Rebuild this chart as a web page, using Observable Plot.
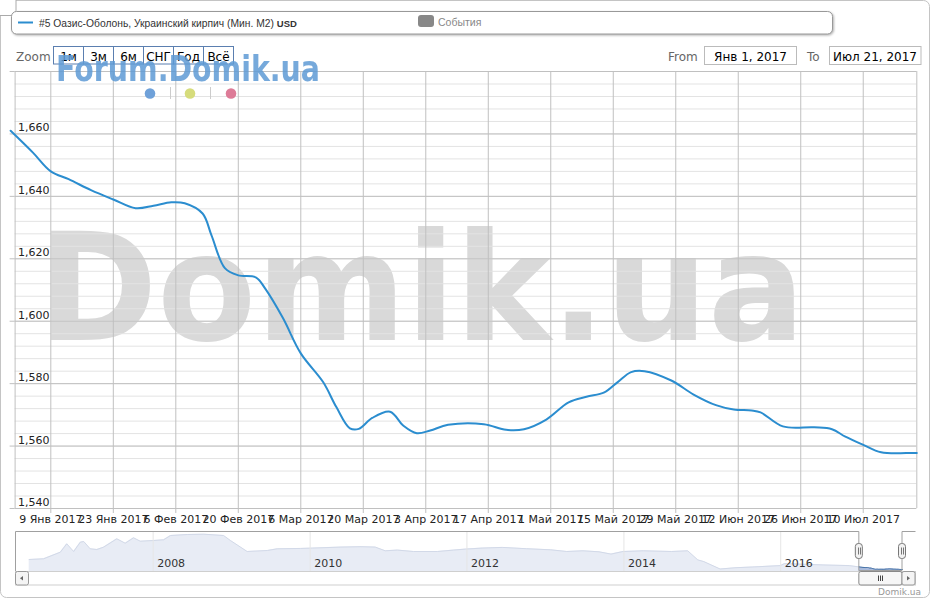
<!DOCTYPE html>
<html><head><meta charset="utf-8">
<script src="https://cdn.jsdelivr.net/npm/d3@7"></script>
<script src="https://cdn.jsdelivr.net/npm/@observablehq/plot@0.6"></script>
<style>
body{margin:0;background:#fff;font-family:"DejaVu Sans",sans-serif;}
#wrap{position:relative;width:931px;height:600px;overflow:hidden;background:#fff;}
#wrap svg{position:absolute;left:0;}
</style></head><body><div id="wrap"></div><script>
// ---------- data ----------
const seriesName = "#5 Оазис-Оболонь, Украинский кирпич (Мин. М2) ";
const seriesUnit = "USD";
const mainDates = ["2016-12-31","2017-01-05","2017-01-09","2017-01-13","2017-01-18","2017-01-23","2017-01-28","2017-02-01","2017-02-05","2017-02-08","2017-02-12","2017-02-14","2017-02-17","2017-02-20","2017-02-24","2017-02-26","2017-03-02","2017-03-06","2017-03-11","2017-03-14","2017-03-17","2017-03-19","2017-03-22","2017-03-26","2017-03-29","2017-04-01","2017-04-04","2017-04-08","2017-04-16","2017-04-21","2017-04-25","2017-04-30","2017-05-05","2017-05-09","2017-05-13","2017-05-16","2017-05-19","2017-05-22","2017-05-28","2017-06-02","2017-06-07","2017-06-11","2017-06-15","2017-06-17","2017-06-22","2017-06-29","2017-07-03","2017-07-06","2017-07-10","2017-07-14","2017-07-21","2017-07-22"];
const mainValues = [1661,1654,1648,1645.5,1642,1639,1636.2,1637,1638.1,1637.8,1634.5,1627.5,1617,1614.7,1614,1610.5,1601,1589.7,1580.5,1572.4,1565.7,1565.5,1569,1571,1566.5,1564.1,1565,1566.8,1567,1565.2,1565.4,1568.5,1574,1575.8,1577.2,1580.5,1583.7,1584,1581,1576.5,1573.1,1571.7,1571.4,1570.8,1566.3,1566,1565.4,1563,1560.4,1558,1557.8,1557.8];
const navDates = ["2006-06-03","2006-08-09","2006-10-26","2006-11-25","2006-12-27","2007-01-27","2007-02-12","2007-03-14","2007-04-14","2007-05-15","2007-07-16","2007-08-24","2007-10-02","2007-11-02","2008-01-03","2008-02-19","2008-03-22","2008-06-08","2008-08-24","2008-11-24","2008-12-26","2009-03-14","2009-06-16","2009-08-01","2009-11-17","2010-01-12","2010-05-24","2010-08-26","2010-10-31","2010-12-17","2011-02-11","2011-04-27","2011-08-17","2011-10-31","2011-12-26","2012-03-11","2012-06-13","2012-10-04","2013-01-25","2013-04-10","2013-06-24","2013-09-07","2013-11-02","2013-12-28","2014-04-01","2014-08-11","2014-10-25","2014-12-11","2015-01-08","2015-03-25","2015-06-07","2015-08-21","2015-12-31","2016-01-19","2016-04-22","2016-07-25","2016-11-15"];
const navValues = [1958,1986,2250,2586,2278,2650,2678,2386,2358,2450,2786,2610,2826,2690,2718,2746,2918,2958,2970,2918,2718,2278,2318,2386,2400,2414,2454,2470,2454,2306,2334,2278,2278,2334,2374,2414,2442,2390,2346,2278,2306,2266,2174,2278,2306,2278,2306,1942,1874,1578,1630,1658,1714,1794,1766,1738,1714];
const xTickDates = ["2017-01-09","2017-01-23","2017-02-06","2017-02-20","2017-03-06","2017-03-20","2017-04-03","2017-04-17","2017-05-01","2017-05-15","2017-05-29","2017-06-12","2017-06-26","2017-07-10"];
const monthNames = ["Янв","Фев","Мар","Апр","Май","Июн","Июл","Авг","Сен","Окт","Ноя","Дек"];
const yMajor = [1540,1560,1580,1600,1620,1640,1660,1680];
const yLabels = [1540,1560,1580,1600,1620,1640,1660];
const navYears = ["2008-01-01","2010-01-01","2012-01-01","2014-01-01","2016-01-01"];
const zoomButtons = ["1м","3м","6м","СНГ","Год","Всё"];
const rangeFrom = "Янв 1, 2017", rangeTo = "Июл 21, 2017";
const viewStart = "2017-01-01", viewEnd = "2017-07-22", dataEnd = "2017-07-21";

// ---------- build ----------
const parse = d3.utcParse("%Y-%m-%d");
const main = mainDates.map((d,i)=>({date:parse(d), value:mainValues[i]}));
const nav = navDates.map((d,i)=>({date:parse(d), value:navValues[i]})).concat(main.filter(d=>d.date<=parse(dataEnd)));
const sel = main.filter(d=>d.date<=parse(dataEnd));
const xTicks = xTickDates.map(parse);
const yMinor = d3.range(1540, 1681, 4);
const x0 = parse(viewStart), x1 = parse(viewEnd);
const fmtX = d => `${d.getUTCDate()} ${monthNames[d.getUTCMonth()]} ${d.getUTCFullYear()}`;
const fmtY = d3.format(",");
const wrap = document.getElementById("wrap");

const mainSvg = Plot.plot({
  width: 931, height: 530,
  marginTop: 71, marginBottom: 22, marginLeft: 14.6, marginRight: 14.7,
  x: {type: "utc", domain: [x0, x1]},
  y: {domain: [1540, 1680]},
  style: {background: "transparent", fontFamily: "DejaVu Sans", fontSize: "11px", color: "#222"},
  marks: [
    Plot.ruleY(yMinor, {stroke: "#e3e3e3"}),
    Plot.ruleY(yMajor, {stroke: "#c0c0c0"}),
    Plot.ruleX(xTicks, {stroke: "#c0c0c0"}),
    Plot.ruleX([x0, x1], {stroke: "#c0c0c0"}),
    Plot.axisX({ticks: xTicks, tickFormat: fmtX, tickSize: 5, tickPadding: 2, stroke: "#c0c0c0", fill: "#222", label: null}),
    Plot.axisY({ticks: yMajor, tickSize: 5, tickFormat: () => "", stroke: "#c0c0c0", label: null}),
    Plot.text(yLabels, {y: d => d, text: d => fmtY(d), frameAnchor: "left", textAnchor: "start", dx: 3, dy: -6, fill: "#222"}),
    Plot.line(main, {x: "date", y: "value", stroke: "#2b8dcf", strokeWidth: 2, curve: "catmull-rom"})
  ]
});
mainSvg.style.top = "0px";
d3.select(mainSvg).insert("text", ":first-child")
  .attr("x", 38).attr("y", 340).attr("text-anchor", "start").attr("font-family", "DejaVu Sans").attr("font-weight", "bold")
  .attr("font-size", 150).attr("fill", "#d9d9d9").attr("textLength", 767).attr("lengthAdjust", "spacingAndGlyphs")
  .text("Domik.ua");
wrap.appendChild(mainSvg);

const navSvg = Plot.plot({
  width: 931, height: 70,
  marginTop: 1, marginBottom: 29, marginLeft: 28.7, marginRight: 29,
  x: {type: "utc", domain: [parse(navDates[0]), parse(dataEnd)], axis: null},
  y: {domain: [1478, 3078], axis: null},
  style: {background: "transparent", fontFamily: "DejaVu Sans", fontSize: "11px", color: "#333"},
  marks: [
    Plot.areaY(nav, {x: "date", y1: 1478, y2: "value", fill: "#e8ecf5"}),
    Plot.lineY(nav, {x: "date", y: "value", stroke: "#d2d9e8", strokeWidth: 1}),
    Plot.areaY(sel, {x: "date", y1: 1478, y2: "value", fill: "#a9bbdc"}),
    Plot.lineY(sel, {x: "date", y: "value", stroke: "#4572a7", strokeWidth: 1}),
    Plot.ruleX(navYears.map(parse), {stroke: "#e6e6e6"}),
    Plot.text(navYears.map(parse), {x: d => d, text: d => String(d.getUTCFullYear()), frameAnchor: "bottom", textAnchor: "start", lineAnchor: "bottom", dx: 4, dy: -5, fill: "#333"})
  ]
});
navSvg.style.top = "530px";
{
  const sx = navSvg.scale("x");
  const hs = sx.apply(x0), he = sx.apply(parse(dataEnd));
  const g = d3.select(navSvg).append("g");
  g.append("rect").attr("x", 15.5).attr("y", 41.5).attr("width", 900).attr("height", 13.5).attr("fill", "#fff").attr("stroke", "#cfcfcf");
  g.append("path").attr("d", `M15.5,41 V1.5 H${hs} V40.5 H${he} V1.5 H915.5`).attr("fill", "none").attr("stroke", "#a0a0a0");
  g.append("rect").attr("x", 15.5).attr("y", 41.5).attr("width", 13).attr("height", 13.5).attr("rx", 2).attr("fill", "#f4f4f4").attr("stroke", "#999");
  g.append("path").attr("d", "M23,46 L20,48.25 L23,50.5 Z").attr("fill", "#666");
  g.append("rect").attr("x", hs).attr("y", 41.5).attr("width", he - hs).attr("height", 13.5).attr("rx", 2).attr("fill", "#f6f6f6").attr("stroke", "#888");
  const cx = Math.round((hs + he) / 2) + 0.5;
  [-2, 0, 2].forEach(o => g.append("line").attr("x1", cx + o).attr("x2", cx + o).attr("y1", 45.5).attr("y2", 51).attr("stroke", "#444"));
  g.append("rect").attr("x", he).attr("y", 41.5).attr("width", 13).attr("height", 13.5).attr("rx", 2).attr("fill", "#f4f4f4").attr("stroke", "#999");
  g.append("path").attr("d", `M${he + 5},46 L${he + 8},48.25 L${he + 5},50.5 Z`).attr("fill", "#666");
  [hs, he].forEach(h => {
    g.append("rect").attr("x", h - 3.5).attr("y", 13.5).attr("width", 7).attr("height", 15).attr("rx", 3).attr("fill", "#f2f2f2").attr("stroke", "#777");
    [-1, 1].forEach(o => g.append("line").attr("x1", Math.round(h) + o + 0.5).attr("x2", Math.round(h) + o + 0.5).attr("y1", 17.5).attr("y2", 24.5).attr("stroke", "#777"));
  });
}
wrap.appendChild(navSvg);

// ---------- overlay (frame, legend, controls, watermarks) ----------
const ov = d3.create("svg").attr("width", 931).attr("height", 600).style("top", "0px");
ov.append("rect").attr("x", 0.5).attr("y", 0.5).attr("width", 929).attr("height", 597).attr("rx", 6).attr("fill", "none").attr("stroke", "#c4c4c4");
ov.append("rect").attr("x", -6).attr("y", -6).attr("width", 22).attr("height", 21.5).attr("rx", 5).attr("fill", "#fff").attr("stroke", "#aaa");
ov.append("rect").attr("x", 11.5).attr("y", 11.5).attr("width", 821).attr("height", 22.5).attr("rx", 5)
  .attr("fill", "#fff").attr("stroke", "#999").style("filter", "drop-shadow(1px 1.5px 1.2px rgba(0,0,0,0.3))");
ov.append("line").attr("x1", 18).attr("x2", 33).attr("y1", 22.5).attr("y2", 22.5).attr("stroke", "#2b8dcf").attr("stroke-width", 2);
const lt = ov.append("text").attr("x", 39).attr("y", 26.5).attr("font-family", "Liberation Sans").attr("font-size", 10.3).attr("fill", "#333").text(seriesName);
lt.append("tspan").attr("font-weight", "bold").attr("font-size", 9.5).text(seriesUnit);
ov.append("rect").attr("x", 418).attr("y", 15).attr("width", 16).attr("height", 12).attr("rx", 3).attr("fill", "#888");
ov.append("text").attr("x", 438).attr("y", 26).attr("font-family", "Liberation Sans").attr("font-size", 10.5).attr("fill", "#888").text("События");
// zoom buttons
ov.append("text").attr("x", 16).attr("y", 61).attr("font-family", "DejaVu Sans").attr("font-size", 12).attr("fill", "#666").text("Zoom");
zoomButtons.forEach((b, i) => {
  ov.append("rect").attr("x", 53.5 + 30 * i).attr("y", 46.5).attr("width", 30).attr("height", 17.5).attr("fill", "none").attr("stroke", "#5b7fb0");
  ov.append("text").attr("x", 68.5 + 30 * i).attr("y", 60.5).attr("text-anchor", "middle").attr("font-family", "DejaVu Sans").attr("font-size", 12).attr("fill", "#000").text(b);
});
// Forum watermark + dots
ov.append("text").attr("x", 56).attr("y", 81).attr("font-family", "DejaVu Sans").attr("font-weight", "bold")
  .attr("font-size", 36).attr("fill", "#5f9bd5").attr("opacity", 0.85).attr("textLength", 264).attr("lengthAdjust", "spacingAndGlyphs").text("Forum.Domik.ua");
[[150, "#6fa1d9"], [190, "#d6dc7c"], [231, "#dd7b97"]].forEach(([cx, c]) => ov.append("circle").attr("cx", cx).attr("cy", 93.5).attr("r", 5.3).attr("fill", c));
[170.5, 210.5].forEach(x => ov.append("line").attr("x1", x).attr("x2", x).attr("y1", 87).attr("y2", 99).attr("stroke", "#ccc"));
// range inputs
ov.append("text").attr("x", 668).attr("y", 60.5).attr("font-family", "DejaVu Sans").attr("font-size", 12).attr("fill", "#666").text("From");
ov.append("rect").attr("x", 704.5).attr("y", 46.5).attr("width", 92).attr("height", 18).attr("fill", "#fff").attr("stroke", "#bbb");
ov.append("text").attr("x", 750.5).attr("y", 60.5).attr("text-anchor", "middle").attr("font-family", "DejaVu Sans").attr("font-size", 12).attr("fill", "#000").text(rangeFrom);
ov.append("text").attr("x", 807).attr("y", 60.5).attr("font-family", "DejaVu Sans").attr("font-size", 12).attr("fill", "#666").text("To");
ov.append("rect").attr("x", 829.5).attr("y", 46.5).attr("width", 91.5).attr("height", 18).attr("fill", "#fff").attr("stroke", "#bbb");
ov.append("text").attr("x", 875).attr("y", 60.5).attr("text-anchor", "middle").attr("font-family", "DejaVu Sans").attr("font-size", 12).attr("fill", "#000").text(rangeTo);
ov.append("text").attr("x", 921).attr("y", 595).attr("text-anchor", "end").attr("font-family", "DejaVu Sans").attr("font-size", 9).attr("fill", "#999").text("Domik.ua");
wrap.appendChild(ov.node());
</script></body></html>
